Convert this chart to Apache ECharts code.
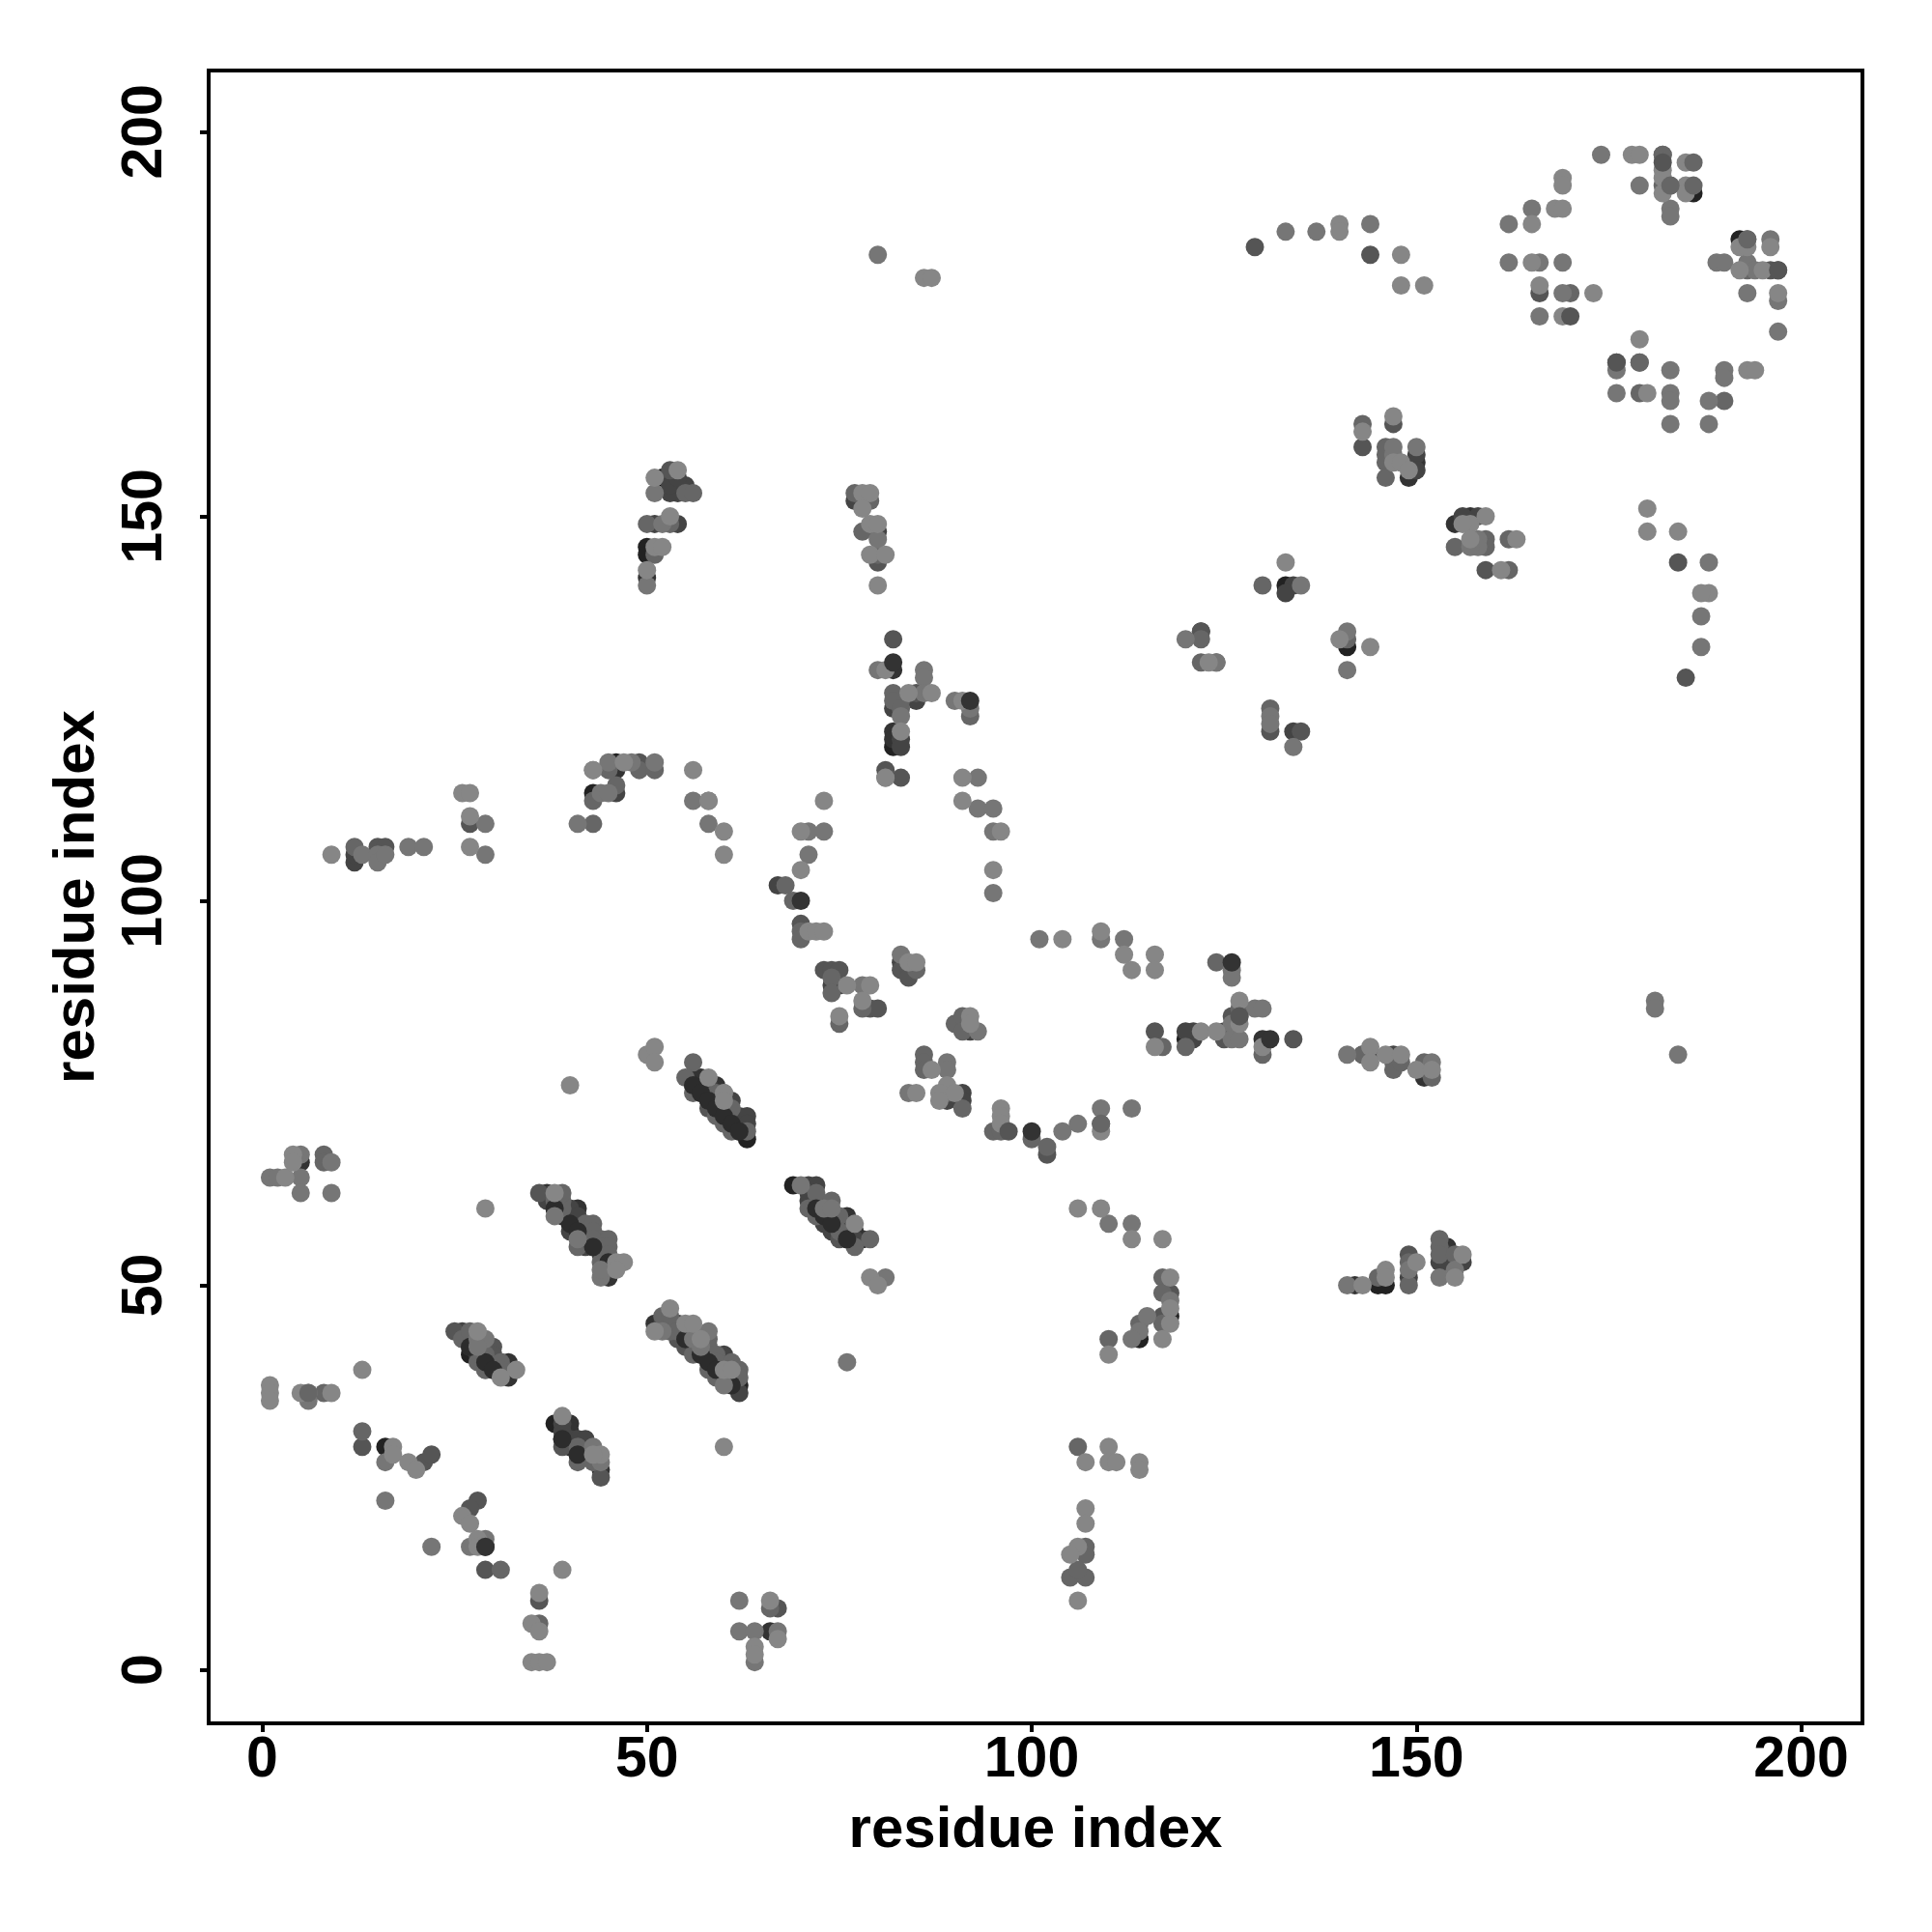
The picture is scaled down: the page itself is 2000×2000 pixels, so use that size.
<!DOCTYPE html>
<html><head><meta charset="utf-8">
<style>html,body{margin:0;padding:0;background:#fff}#c{width:2000px;height:2000px}</style>
<script src="https://cdn.jsdelivr.net/npm/echarts@6/dist/echarts.min.js"></script>
</head><body><div id="c"></div>
<script>
const tickValues=[0,50,100,150,200];
const axisTitle="residue index";
const grey00=[[29,40],[38,60],[40,58],[57,41],[59,39],[39,30],[41,28],[57,75],[58,74],[59,73],[60,72],[61,71],[72,60],[73,59],[74,58],[155,53],[52,155]];
const grey22=[[27,41],[38,32],[62,37],[63,69],[69,63],[56,76],[62,70],[45,53],[43,114],[46,118],[50,146],[50,145],[82,120],[114,43],[120,82],[145,50],[146,50],[186,192],[192,186],[133,141],[141,133],[16,29],[29,16],[118,46]];
const grey33=[[27,43],[29,42],[30,40],[32,40],[30,39],[32,39],[32,38],[31,40],[37,62],[41,60],[39,59],[41,58],[41,57],[42,56],[43,55],[45,51],[51,45],[58,40],[60,40],[60,38],[40,32],[40,31],[40,29],[42,29],[42,28],[44,26],[56,77],[57,77],[59,76],[61,72],[62,71],[76,59],[76,58],[76,57],[77,57],[76,56],[78,56],[72,61],[50,142],[82,130],[82,122],[82,121],[46,117],[155,149],[157,150],[149,155],[150,157],[130,82],[5,66],[66,5],[142,50],[151,77],[154,55]];
const grey44=[[26,44],[28,42],[27,42],[28,41],[30,39],[37,61],[40,60],[40,59],[41,59],[42,57],[40,57],[42,55],[45,52],[52,45],[53,45],[54,45],[55,44],[55,43],[56,42],[60,41],[61,38],[61,37],[62,36],[39,32],[39,31],[40,30],[41,30],[42,30],[58,76],[58,75],[59,74],[60,73],[61,74],[62,72],[63,72],[63,71],[71,63],[72,63],[71,62],[71,61],[73,58],[75,58],[74,57],[77,56],[12,105],[12,106],[46,114],[51,149],[54,149],[53,155],[54,153],[53,153],[53,154],[55,154],[77,152],[80,148],[82,125],[85,126],[83,121],[83,120],[83,92],[91,75],[91,74],[91,84],[92,83],[89,74],[121,83],[121,82],[125,83],[120,83],[134,141],[134,122],[133,140],[147,80],[151,78],[144,80],[143,80],[154,54],[153,53],[154,53],[156,53],[122,135],[150,158],[150,156],[156,150],[158,150],[149,51],[127,85],[67,102],[54,155],[44,54],[74,89],[75,89]];
const grey55=[[25,44],[30,42],[30,41],[29,39],[36,62],[39,29],[44,25],[55,42],[54,43],[58,73],[75,56],[73,91],[74,91],[75,91],[83,91],[84,91],[84,90],[79,86],[80,86],[15,107],[16,107],[27,110],[49,118],[13,29],[21,27],[22,28],[28,22],[27,21],[29,13],[36,9],[67,8],[70,97],[82,134],[81,117],[83,116],[80,144],[85,127],[102,67],[117,46],[116,83],[131,122],[135,122],[147,162],[143,159],[149,54],[122,135],[159,143],[144,184],[129,185],[184,144],[185,129],[134,82],[125,82],[126,85],[118,49],[176,170],[197,182],[196,182],[166,179],[53,156]];
const grey66=[[26,43],[27,44],[29,41],[28,40],[31,40],[29,39],[31,39],[38,61],[39,61],[39,60],[39,62],[41,55],[42,58],[43,58],[43,57],[44,56],[43,56],[45,56],[44,55],[45,55],[45,54],[45,53],[41,29],[41,27],[43,27],[52,46],[53,46],[53,44],[54,44],[56,44],[58,43],[58,42],[56,41],[58,41],[59,41],[59,40],[61,40],[58,39],[62,39],[59,38],[62,38],[56,79],[55,77],[56,75],[59,75],[60,75],[61,73],[59,72],[60,71],[61,70],[63,70],[72,62],[71,60],[74,61],[72,59],[74,59],[75,59],[75,57],[79,56],[77,55],[12,107],[13,31],[31,13],[36,6],[43,110],[49,117],[51,117],[43,113],[46,115],[45,117],[50,149],[55,153],[56,153],[53,149],[77,153],[79,152],[78,148],[80,145],[92,124],[83,126],[82,127],[82,126],[83,125],[70,96],[68,102],[69,100],[70,95],[74,90],[74,88],[75,84],[81,116],[100,69],[102,68],[90,84],[91,85],[91,83],[86,80],[86,79],[86,78],[91,73],[89,75],[95,70],[96,70],[109,71],[120,81],[130,80],[126,83],[127,86],[117,81],[117,51],[117,49],[117,45],[114,45],[110,43],[122,134],[124,131],[122,131],[131,125],[143,162],[146,159],[146,158],[146,157],[146,155],[155,146],[159,147],[159,146],[162,147],[162,143],[141,134],[130,141],[183,193],[179,170],[179,166],[143,80],[147,79],[147,78],[148,79],[151,79],[152,77],[153,56],[153,55],[153,54],[155,54],[149,53],[149,50],[145,51],[193,186],[193,182],[170,179],[107,16],[107,15],[106,29],[105,12],[107,12],[106,13],[182,193],[182,197],[190,165],[8,67],[8,66],[8,36],[66,8],[124,92],[51,145],[44,53],[78,86],[85,91]];
const streak=[[27,42],[29,40],[30,39],[38,60],[40,58],[41,57],[43,55],[45,53],[55,43],[57,41],[58,40],[59,39],[61,37],[39,30],[41,28],[56,76],[57,75],[58,74],[59,73],[60,72],[61,71],[62,70],[72,60],[73,59],[74,58],[76,56]];
const grey77=[[28,43],[29,43],[28,42],[44,51],[38,59],[41,56],[44,52],[44,27],[43,29],[58,44],[52,44],[56,43],[57,42],[60,37],[70,63],[73,60],[74,60],[1,64],[2,64],[5,67],[5,64],[5,62],[9,62],[9,66],[6,35],[16,27],[16,22],[22,16],[27,16],[29,17],[62,9],[62,5],[64,5],[64,1],[67,5],[43,117],[45,118],[48,118],[51,118],[13,106],[15,106],[15,105],[16,106],[19,107],[21,107],[29,110],[29,106],[41,110],[44,114],[45,114],[58,113],[56,113],[58,110],[52,149],[51,153],[50,141],[80,147],[80,130],[86,130],[86,129],[86,127],[83,124],[90,126],[92,125],[93,116],[93,112],[95,112],[95,109],[95,101],[71,109],[73,109],[71,106],[101,95],[109,95],[112,95],[83,93],[78,89],[93,83],[89,79],[89,78],[84,75],[104,70],[106,71],[109,73],[113,73],[110,58],[113,58],[118,48],[126,91],[126,90],[126,84],[126,82],[127,82],[129,86],[130,86],[115,46],[114,44],[113,43],[81,51],[76,40],[141,80],[152,79],[153,51],[155,52],[149,52],[141,50],[181,87],[181,86],[184,80],[120,134],[124,131],[131,124],[131,123],[134,120],[135,141],[141,135],[141,130],[147,158],[147,159],[150,159],[158,147],[158,146],[157,146],[133,187],[137,187],[144,188],[174,197],[179,193],[165,190],[162,188],[162,183],[166,183],[169,183],[166,176],[183,190],[183,189],[183,169],[183,166],[183,165],[176,169],[176,166],[188,165],[188,162],[183,162],[190,169],[190,168],[197,174],[197,178],[193,179],[189,183],[190,183],[193,183],[194,182],[196,186],[80,184],[188,144],[187,137],[187,133],[169,179]];
const grey88=[[28,44],[33,39],[31,38],[38,62],[46,53],[47,53],[46,52],[44,28],[43,28],[39,33],[53,47],[55,45],[56,45],[57,43],[51,44],[60,39],[61,39],[58,77],[60,75],[60,74],[77,58],[3,64],[4,67],[4,66],[1,37],[1,36],[1,35],[5,36],[6,36],[9,36],[13,39],[17,29],[17,28],[19,27],[20,26],[26,20],[27,19],[28,17],[28,16],[29,60],[39,13],[36,10],[35,6],[36,5],[35,1],[36,1],[37,1],[60,29],[40,76],[50,80],[51,81],[51,79],[79,51],[80,50],[66,9],[67,4],[64,3],[64,2],[9,106],[26,114],[27,114],[27,111],[27,107],[43,117],[47,118],[56,117],[58,113],[60,109],[60,106],[73,113],[70,109],[70,104],[71,96],[72,96],[73,96],[51,155],[51,146],[52,146],[54,156],[50,143],[53,150],[78,153],[79,153],[78,151],[79,149],[80,149],[79,145],[81,145],[80,141],[81,130],[87,127],[84,127],[83,122],[91,126],[81,116],[91,116],[91,113],[96,109],[95,104],[104,95],[109,96],[112,93],[113,91],[116,93],[116,91],[76,89],[79,89],[78,87],[75,85],[84,92],[85,92],[92,85],[92,84],[87,78],[89,76],[85,75],[88,75],[88,74],[90,75],[96,73],[96,72],[96,71],[109,70],[106,60],[109,60],[113,56],[117,56],[117,43],[118,51],[118,47],[118,45],[110,41],[122,83],[124,83],[127,87],[127,84],[116,81],[130,81],[144,81],[144,79],[146,80],[148,80],[150,78],[152,78],[143,50],[146,52],[146,51],[150,53],[156,54],[155,51],[123,131],[133,144],[140,134],[144,133],[147,163],[143,161],[147,157],[148,157],[149,156],[157,149],[156,149],[157,147],[159,150],[163,147],[161,143],[180,151],[180,148],[184,148],[140,188],[140,187],[148,184],[148,180],[151,180],[86,181],[87,181],[178,197],[179,197],[182,195],[182,194],[182,192],[185,196],[185,193],[185,192],[169,194],[169,193],[168,190],[169,190],[165,188],[165,183],[166,180],[173,179],[169,176],[179,173],[193,169],[194,169],[180,166],[192,185],[193,185],[196,185],[192,182],[195,182],[197,179],[188,140],[187,140],[107,27],[110,29],[110,27],[111,27],[114,27],[114,26],[107,21],[107,19],[106,16],[105,15],[106,9]];
const top66=[[6,36],[183,193],[186,193],[186,196],[179,170],[193,186],[182,197],[109,71]];
const top55=[[170,176],[176,170],[197,182],[97,70],[182,196],[127,85]];
const top33=[[100,70],[126,92],[92,126],[131,82],[29,16],[82,131],[70,100]];
const layers=[["#0a0a0a",grey00],["#222222",grey22],["#333333",grey33],["#444444",grey44],["#555555",grey55],["#666666",grey66],["#2c2c2c",streak],["#767676",grey77],["#868686",grey88],["#666666",top66],["#555555",top55],["#333333",top33]];
const chart=echarts.init(document.getElementById("c"),null,{renderer:"canvas"});
const font="Liberation Sans";
function axis(extra){return Object.assign({type:"value",min:-6.96,max:207.96,name:axisTitle,nameLocation:"middle",
 nameTextStyle:{fontFamily:font,fontWeight:"bold",fontSize:60,color:"#000"},
 axisLine:{show:false,onZero:false},splitLine:{show:false},
 axisTick:{show:true,length:9,inside:false,lineStyle:{color:"#000",width:4},customValues:tickValues}},extra);}
chart.setOption({animation:false,backgroundColor:"#fff",
 grid:{left:216,right:72,top:73,bottom:216,show:true,borderColor:"#000",borderWidth:4,backgroundColor:"transparent",containLabel:false},
 xAxis:axis({nameGap:81,axisLabel:{customValues:tickValues,fontFamily:font,fontWeight:"bold",fontSize:59,color:"#000",margin:9,showMinLabel:true,showMaxLabel:true,hideOverlap:false}}),
 yAxis:axis({nameGap:106,axisLabel:{customValues:tickValues,rotate:90,fontFamily:font,fontWeight:"bold",fontSize:59,color:"#000",margin:36,showMinLabel:true,showMaxLabel:true,hideOverlap:false}}),
 series:layers.map(([c,d])=>({type:"scatter",data:d,symbol:"circle",symbolSize:19,silent:true,itemStyle:{color:c,opacity:1},clip:false,progressive:0}))
});
</script></body></html>
